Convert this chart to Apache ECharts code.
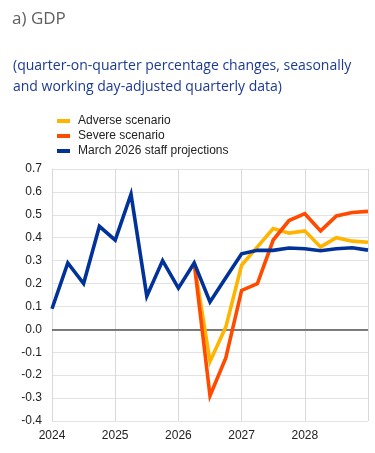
<!DOCTYPE html>
<html>
<head>
<meta charset="utf-8">
<script src="https://cdn.jsdelivr.net/npm/echarts@6/dist/echarts.min.js"></script>
<style>
html,body{margin:0;padding:0;background:#fff;}
#chart{width:375px;height:453px;}
</style>
</head>
<body>
<div id="chart"></div>
<script>
var quarters = ['2024Q1','2024Q2','2024Q3','2024Q4','2025Q1','2025Q2','2025Q3','2025Q4','2026Q1','2026Q2','2026Q3','2026Q4','2027Q1','2027Q2','2027Q3','2027Q4','2028Q1','2028Q2','2028Q3','2028Q4','2029Q1'];
var staffProjections = [0.09,0.29,0.20,0.45,0.39,0.59,0.145,0.30,0.18,0.29,0.12,0.225,0.33,0.345,0.345,0.355,0.352,0.343,0.352,0.356,0.346];
var adverseScenario = [null,null,null,null,null,null,null,null,null,0.29,-0.14,0.01,0.28,0.36,0.44,0.42,0.43,0.36,0.40,0.385,0.38];
var severeScenario = [null,null,null,null,null,null,null,null,null,0.29,-0.29,-0.125,0.17,0.20,0.39,0.475,0.505,0.43,0.495,0.51,0.515];
var yearLabels = ['2024','2025','2026','2027','2028'];
var seriesNames = ['Adverse scenario','Severe scenario','March 2026 staff projections'];
var seriesColors = ['#ffb400','#ff4b00','#003299'];

var chart = echarts.init(document.getElementById('chart'), null, {renderer:'canvas'});
var labelFont = 'Liberation Sans, Arial, sans-serif';
function mk(name, data, color, extra){
  var s = {name:name,type:'line',data:data,symbol:'none',showSymbol:false,connectNulls:false,
    lineStyle:{width:3.6,color:color,join:'miter'},itemStyle:{color:color},z:3,animation:false};
  if(extra) for(var k in extra) s[k]=extra[k];
  return s;
}
var option = {
  animation:false,
  title:[
    {text:'a) GDP',left:7,top:6,textStyle:{fontFamily:'Open Sans',fontSize:17,fontWeight:'normal',color:'#5f5f5f'}},
    {text:'(quarter-on-quarter percentage changes, seasonally\nand working day-adjusted quarterly data)',left:8,top:50,
     textStyle:{fontFamily:'Open Sans',fontSize:14,fontWeight:'normal',color:'#1c3a94',lineHeight:21.5}}
  ],
  legend:{
    orient:'vertical',left:52,top:110,itemWidth:13,itemHeight:4,itemGap:3,icon:'rect',
    data:seriesNames,
    textStyle:{fontFamily:labelFont,fontSize:12,color:'#222',padding:[0,0,0,3]}
  },
  grid:{left:52,right:7,top:169,bottom:32,containLabel:false},
  xAxis:{
    type:'category',data:quarters,boundaryGap:false,
    axisLine:{show:true,lineStyle:{color:'#d9d9d9',width:1}},
    axisTick:{show:false},
    axisLabel:{interval:0,margin:9,fontFamily:labelFont,fontSize:12,color:'#222',
      formatter:function(v,i){ if(i%4!==0) return ''; var y=v.slice(0,4); return yearLabels.indexOf(y)>=0?y:''; }},
    splitLine:{show:true,interval:function(i){return i%4===0;},lineStyle:{color:'#d9d9d9',width:1}}
  },
  yAxis:{
    type:'value',min:-0.4,max:0.7,interval:0.1,
    axisLine:{show:true,lineStyle:{color:'#d9d9d9'}},
    axisTick:{show:false},
    axisLabel:{margin:10,fontFamily:labelFont,fontSize:12,color:'#222',formatter:function(v){return v.toFixed(1);}},
    splitLine:{show:true,lineStyle:{color:'#e3e3e3',width:1}}
  },
  series:[
    mk(seriesNames[0],adverseScenario,seriesColors[0]),
    mk(seriesNames[1],severeScenario,seriesColors[1]),
    mk(seriesNames[2],staffProjections,seriesColors[2],{
      markLine:{silent:true,symbol:['none','none'],label:{show:false},
        lineStyle:{color:'#555',width:1.5,type:'solid'},data:[{yAxis:0}],z:1}
    })
  ]
};
chart.setOption(option);
</script>
</body>
</html>
